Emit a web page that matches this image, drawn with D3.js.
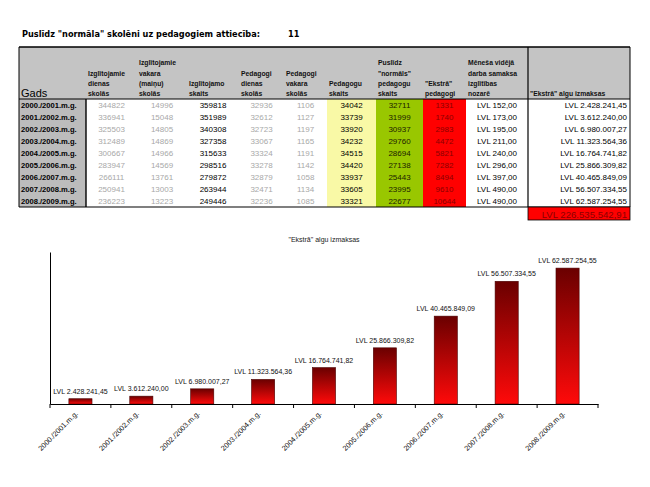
<!DOCTYPE html>
<html>
<head>
<meta charset="utf-8">
<script src="https://cdn.jsdelivr.net/npm/d3@7"></script>
<style>
body { margin: 0; background: #fff; }
svg { display: block; }
</style>
</head>
<body>
<div id="main"></div>
<script>
// data
const ratio = 11;
const years = ["2000./2001.m.g.", "2001./2002.m.g.", "2002./2003.m.g.", "2003./2004.m.g.", "2004./2005.m.g.",
    "2005./2006.m.g.", "2006./2007.m.g.", "2007./2008.m.g.", "2008./2009.m.g."];
const studentsDay = [344822, 336941, 325503, 312489, 300667, 283947, 266111, 250941, 236223];
const studentsEvening = [14996, 15048, 14805, 14869, 14966, 14569, 13761, 13003, 13223];
const studentsTotal = [359818, 351989, 340308, 327358, 315633, 298516, 279872, 263944, 249446];
const teachersDay = [32936, 32612, 32723, 33067, 33324, 33278, 32879, 32471, 32236];
const teachersEvening = [1106, 1127, 1197, 1165, 1191, 1142, 1058, 1134, 1085];
const teachersTotal = [34042, 33739, 33920, 34232, 34515, 34420, 33937, 33605, 33321];
const teachersNormal = [32711, 31999, 30937, 29760, 28694, 27138, 25443, 23995, 22677];
const teachersExtra = [1331, 1740, 2983, 4472, 5821, 7282, 8494, 9610, 10644];
const monthlySalary = [152, 173, 195, 211, 240, 296, 397, 490, 490];
const extraPay = [2428241.45, 3612240.00, 6980007.27, 11323564.36, 16764741.82, 25866309.82, 40465849.09, 56507334.55, 62587254.55];
const extraPayTotal = 226535542.91;

const lv = d3.formatLocale({decimal: ",", thousands: ".", grouping: [3], currency: ["LVL ", ""]});
const lvl = lv.format("$,.2f");

const W = 650, H = 487;
const svg = d3.select("#main").append("svg")
    .attr("width", W)
    .attr("height", H)
    .style("font-family", "'Liberation Sans', Arial, sans-serif");

// title line
svg.append("text")
    .attr("x", 22).attr("y", 37)
    .style("font-family", "'DejaVu Sans', Verdana, sans-serif")
    .style("font-weight", "bold")
    .style("font-size", "8.2px")
    .text("Puslīdz \"normāla\" skolēni uz pedagogiem attiecība:");
svg.append("text")
    .attr("x", 288).attr("y", 37)
    .style("font-family", "'DejaVu Sans', Verdana, sans-serif")
    .style("font-weight", "bold")
    .style("font-size", "8.2px")
    .text(ratio);

// ---------- table ----------
const tableLeft = 19, tableRight = 630;
const headTop = 47, headBottom = 99, rowH = 12;
const rowsBottom = headBottom + rowH * years.length;

const fmtInt = d => String(d);
const columns = [
    {x0: 19, x1: 86, head: [], values: years, color: "#000", bold: true, align: "start", fill: "#bcbcbc"},
    {x0: 86, x1: 137, head: ["Izglītojamie", "dienas", "skolās"], values: studentsDay, color: "#a8a8a8"},
    {x0: 137, x1: 187, head: ["Izglītojamie", "vakara", "(maiņu)", "skolās"], values: studentsEvening, color: "#a8a8a8"},
    {x0: 187, x1: 239, head: ["Izglītojamo", "skaits"], values: studentsTotal, color: "#000"},
    {x0: 239, x1: 284, head: ["Pedagogi", "dienas", "skolās"], values: teachersDay, color: "#a8a8a8"},
    {x0: 284, x1: 327, head: ["Pedagogi", "vakara", "skolās"], values: teachersEvening, color: "#a8a8a8"},
    {x0: 327, x1: 376, head: ["Pedagogu", "skaits"], values: teachersTotal, color: "#000", fill: "#f9f9a6"},
    {x0: 376, x1: 423, head: ["Puslīdz", "\"normāls\"", "pedagogu", "skaits"], values: teachersNormal, color: "#1c2200", fill: "#99c700"},
    {x0: 423, x1: 466, head: ["\"Ekstrā\"", "pedagogi"], values: teachersExtra, color: "#8a0000", fill: "#ff0000"},
    {x0: 466, x1: 528, head: ["Mēneša vidējā", "darba samaksa", "izglītības", "nozarē"],
        values: monthlySalary.map(d => lvl(d)), color: "#000"},
    {x0: 528, x1: 630, head: ["\"Ekstrā\" algu izmaksas"], values: extraPay.map(d => lvl(d)), color: "#000", align: "end"}
];

const table = svg.append("g");

table.append("rect")
    .attr("x", tableLeft).attr("y", headTop)
    .attr("width", tableRight - tableLeft).attr("height", headBottom - headTop)
    .attr("fill", "#c4c4c4");

// cell backgrounds
columns.filter(c => c.fill).forEach(function (c) {
    table.append("rect")
        .attr("x", c.x0).attr("y", headBottom)
        .attr("width", c.x1 - c.x0).attr("height", rowsBottom - headBottom)
        .attr("fill", c.fill);
});

// header text, bottom aligned
columns.forEach(function (c) {
    const n = c.head.length;
    table.append("g").selectAll("text")
        .data(c.head)
        .join("text")
        .attr("x", c.x0 + 2)
        .attr("y", (d, i) => 96 - (n - 1 - i) * 10.2)
        .style("font-weight", "bold")
        .style("font-size", "6.8px")
        .attr("fill", "#111")
        .text(d => d);
});
table.append("text")
    .attr("x", 21).attr("y", 97)
    .style("font-size", "11px")
    .attr("fill", "#000")
    .text("Gads");

// cell values
columns.forEach(function (c) {
    const align = c.align || "middle";
    const tx = align === "start" ? c.x0 + 2 : align === "end" ? c.x1 - 3 : (c.x0 + c.x1) / 2;
    table.append("g").selectAll("text")
        .data(c.values)
        .join("text")
        .attr("x", tx)
        .attr("y", (d, i) => headBottom + rowH * i + 9)
        .attr("text-anchor", align)
        .attr("fill", c.color)
        .style("font-weight", c.bold ? "bold" : "normal")
        .style("font-size", c.bold ? "7.6px" : "8px")
        .text(d => typeof d === "number" ? fmtInt(d) : d);
});

// borders
const line = (x1, y1, x2, y2, w) => table.append("line")
    .attr("x1", x1).attr("y1", y1).attr("x2", x2).attr("y2", y2)
    .attr("stroke", "#000").attr("stroke-width", w || 1);
line(tableLeft, headTop, tableRight, headTop, 1.4);
line(tableLeft, headBottom, tableRight, headBottom, 1);
line(tableLeft, rowsBottom, tableRight, rowsBottom, 1.2);
line(tableLeft, headTop, tableLeft, rowsBottom, 1);
line(tableRight, headTop, tableRight, rowsBottom, 1);
line(86, headBottom, 86, rowsBottom, 1.4);
line(528, headTop, 528, rowsBottom, 1.2);

// total box
table.append("rect")
    .attr("x", 528).attr("y", rowsBottom)
    .attr("width", tableRight - 528).attr("height", 13)
    .attr("fill", "#ff0000").attr("stroke", "#000").attr("stroke-width", 0.8);
table.append("text")
    .attr("x", tableRight - 3).attr("y", rowsBottom + 10.5)
    .attr("text-anchor", "end")
    .attr("fill", "#8a0000")
    .style("font-size", "9.6px")
    .text(lvl(extraPayTotal));

// ---------- chart ----------
const chart = { left: 50, right: 598, top: 252, bottom: 404 };

const x = d3.scaleBand()
    .domain(years)
    .range([chart.left, chart.right])
    .paddingInner(0.62)
    .paddingOuter(0.31);

const y = d3.scaleLinear()
    .domain([0, 70000000])
    .range([chart.bottom, chart.top]);

const defs = svg.append("defs");
const grad = defs.append("linearGradient")
    .attr("id", "barGrad")
    .attr("x1", 0).attr("y1", 0).attr("x2", 0).attr("y2", 1);
grad.append("stop").attr("offset", "0%").attr("stop-color", "#6a0000");
grad.append("stop").attr("offset", "100%").attr("stop-color", "#ff0a0a");

svg.append("text")
    .attr("x", (chart.left + chart.right) / 2)
    .attr("y", 242)
    .attr("text-anchor", "middle")
    .attr("fill", "#222")
    .style("font-size", "7px")
    .text("\"Ekstrā\" algu izmaksas");

svg.append("g")
    .selectAll("rect")
    .data(extraPay)
    .join("rect")
    .attr("x", (d, i) => x(years[i]))
    .attr("y", d => y(d))
    .attr("width", x.bandwidth())
    .attr("height", d => y(0) - y(d))
    .attr("fill", "url(#barGrad)")
    .attr("stroke", "#4a0000")
    .attr("stroke-width", 0.6);

svg.append("g")
    .selectAll("text")
    .data(extraPay)
    .join("text")
    .attr("x", (d, i) => x(years[i]) + x.bandwidth() / 2)
    .attr("y", d => y(d) - 5)
    .attr("text-anchor", "middle")
    .attr("fill", "#111")
    .style("font-size", "7px")
    .text(d => lvl(d));

// y axis: only the line
svg.append("g")
    .attr("transform", `translate(${chart.left},0)`)
    .call(d3.axisLeft(y).ticks(0).tickSizeOuter(0))
    .call(g => g.select(".domain").attr("stroke", "#000"));

// x axis with ticks on the category borders
const xAxis = svg.append("g")
    .attr("transform", `translate(0,${chart.bottom})`)
    .call(d3.axisBottom(x).tickSize(0).tickSizeOuter(0).tickFormat(""));
xAxis.select(".domain").attr("stroke", "#000");
const edges = years.map(d => x(d) - x.step() * x.paddingInner() / 2)
    .concat([x(years[years.length - 1]) + x.bandwidth() + x.step() * x.paddingInner() / 2]);
xAxis.append("g").selectAll("line")
    .data(edges)
    .join("line")
    .attr("x1", d => d).attr("x2", d => d)
    .attr("y1", 0).attr("y2", 4)
    .attr("stroke", "#000");

svg.append("g")
    .selectAll("text")
    .data(years)
    .join("text")
    .attr("transform", d => `translate(${x(d) + x.bandwidth() / 2 - 2},${chart.bottom + 10}) rotate(-45)`)
    .attr("text-anchor", "end")
    .attr("fill", "#111")
    .style("font-size", "7.3px")
    .text(d => d);
</script>
</body>
</html>
